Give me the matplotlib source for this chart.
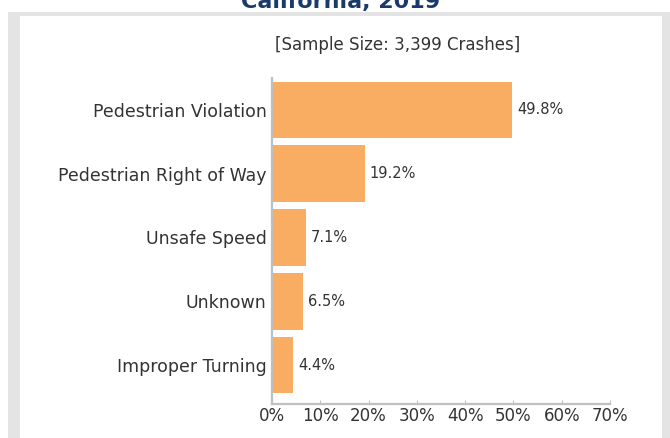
import matplotlib
matplotlib.use("Agg")
import matplotlib.pyplot as plt
from matplotlib.patches import Rectangle
from matplotlib.ticker import FuncFormatter

categories = ["Pedestrian Violation", "Pedestrian Right of Way", "Unsafe Speed",
              "Unknown", "Improper Turning"]
values = [49.8, 19.2, 7.1, 6.5, 4.4]
xticks = [0, 10, 20, 30, 40, 50, 60, 70]
title = "California, 2019"
subtitle = "[Sample Size: 3,399 Crashes]"

W, H = 670, 438
fig = plt.figure(figsize=(W / 100, H / 100), dpi=100)
fig.patch.set_facecolor("white")

def fx(px):
    return px / W

def fy(py):
    return 1 - py / H

# gray frame and inner white panel
fig.patches.append(Rectangle((fx(8), fy(445)), fx(670) - fx(8) + 0.02, fy(12) - fy(445),
                             transform=fig.transFigure, facecolor="#e4e4e4", edgecolor="none", zorder=-10))
fig.patches.append(Rectangle((fx(20), fy(445)), fx(662) - fx(20), fy(16) - fy(445),
                             transform=fig.transFigure, facecolor="white", edgecolor="none", zorder=-9))

ax = fig.add_axes([fx(272), fy(404), fx(610) - fx(272), fy(78) - fy(404)])
ax.set_zorder(5)
ax.set_facecolor("none")
ypos = list(range(len(categories)))
ax.barh(ypos, values, height=0.89, color="#F9AD62", edgecolor="none", zorder=2)
for y, v in zip(ypos, values):
    ax.text(v + 1.0, y, f"{v:.1f}%", va="center", ha="left", fontsize=10.5, color="#333333")

ax.set_ylim(4.61, -0.5)
ax.set_xlim(0, 70)
ax.set_yticks(ypos)
ax.set_yticklabels(categories, fontsize=12.5, color="#333333")
ax.set_xticks(xticks)
ax.xaxis.set_major_formatter(FuncFormatter(lambda v, p: f"{int(v)}%"))
ax.tick_params(axis="x", labelsize=12, labelcolor="#333333", length=3, direction="in",
               color="#bfbfbf", pad=2)
ax.tick_params(axis="y", length=0, pad=4)
for s in ["top", "right"]:
    ax.spines[s].set_visible(False)
for s in ["left", "bottom"]:
    ax.spines[s].set_color("#bfbfbf")
    ax.spines[s].set_linewidth(1.6)

fig.text(fx(398), fy(45), subtitle, ha="center", va="center", fontsize=12, color="#333333")
fig.text(fx(341), fy(8), title, ha="center", va="baseline", fontsize=16, fontweight="bold",
         color="#1b3a6b")

fig.savefig("out.png", dpi=100)
